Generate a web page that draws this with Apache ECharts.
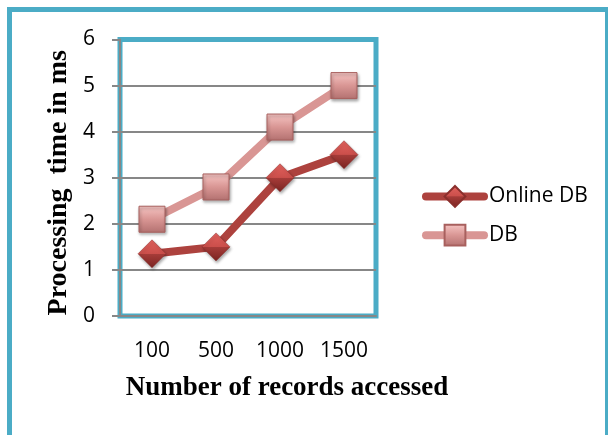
<!DOCTYPE html>
<html>
<head>
<meta charset="utf-8">
<script src="https://cdn.jsdelivr.net/npm/echarts@6/dist/echarts.min.js"></script>
<style>
  html, body { margin: 0; padding: 0; background: #ffffff; }
  #chart { width: 608px; height: 435px; }
</style>
</head>
<body>
<div id="chart"></div>
<script>
// Processing time per number of records accessed
const categories = ['100', '500', '1000', '1500'];
const onlineDb = [1.35, 1.5, 3, 3.5];
const db = [2.1, 2.8, 4.1, 5];

const TEAL = '#4bacc6';
const GRAY = '#878787';
const LABEL_FONT = '"Open Sans", Lato, sans-serif';
const TITLE_FONT = '"Liberation Serif", "Times New Roman", serif';

// bevelled marker fills (light upper facets, dark lower facets)
const diamondFill = new echarts.graphic.LinearGradient(0, 0, 0, 1, [
  { offset: 0, color: '#e2625e' },
  { offset: 0.49, color: '#cb4f4b' },
  { offset: 0.51, color: '#a63c39' },
  { offset: 1, color: '#7a2421' }
]);
const squareFill = new echarts.graphic.LinearGradient(0, 0, 0, 1, [
  { offset: 0, color: '#f6c6c4' },
  { offset: 0.5, color: '#d99694' },
  { offset: 1, color: '#b37170' }
]);

const chart = echarts.init(document.getElementById('chart'), null, { renderer: 'canvas' });

chart.setOption({
  animation: false,
  backgroundColor: '#ffffff',
  graphic: [{
    type: 'rect',
    z: -10,
    silent: true,
    shape: { x: 9.5, y: 9.5, width: 598, height: 500 },
    style: { fill: 'none', stroke: TEAL, lineWidth: 5 }
  }],
  grid: {
    left: 120,
    right: 232,
    top: 39.5,
    bottom: 119,
    show: true,
    borderColor: TEAL,
    borderWidth: 5,
    backgroundColor: 'transparent'
  },
  legend: {
    orient: 'vertical',
    left: 417,
    top: 180,
    itemWidth: 58,
    itemHeight: 26,
    itemGap: 16,
    selectedMode: false,
    lineStyle: { width: 8, cap: 'round' },
    textStyle: { fontFamily: LABEL_FONT, fontSize: 21, color: '#000000' },
    data: ['Online DB', 'DB']
  },
  xAxis: {
    type: 'category',
    data: categories,
    boundaryGap: true,
    axisLine: { show: true, lineStyle: { color: GRAY, width: 2 } },
    axisTick: { show: false },
    axisLabel: { margin: 25, fontFamily: LABEL_FONT, fontSize: 21, color: '#000000' },
    name: 'Number of records accessed',
    nameLocation: 'middle',
    nameGap: 59,
    nameTextStyle: {
      fontFamily: TITLE_FONT, fontWeight: 'bold', fontSize: 27, color: '#000000',
      padding: [0, 0, 0, 78]
    }
  },
  yAxis: {
    type: 'value',
    min: 0,
    max: 6,
    interval: 1,
    axisLine: { show: true, lineStyle: { color: GRAY, width: 2 } },
    axisTick: { show: true, length: 8, lineStyle: { color: GRAY, width: 2 } },
    axisLabel: { margin: 25, fontFamily: LABEL_FONT, fontSize: 21, color: '#000000' },
    splitLine: { show: true, showMinLine: false, showMaxLine: false, lineStyle: { color: GRAY, width: 2 } },
    name: 'Processing  time in ms',
    nameLocation: 'middle',
    nameRotate: 90,
    nameGap: 47,
    nameTextStyle: {
      fontFamily: TITLE_FONT, fontWeight: 'bold', fontSize: 28, color: '#000000',
      padding: [0, 10, 0, 0]
    }
  },
  series: [
    {
      name: 'Online DB',
      type: 'line',
      data: onlineDb,
      symbol: 'diamond',
      symbolSize: 28,
      lineStyle: { color: '#ad423e', width: 8, cap: 'round', join: 'round' },
      itemStyle: {
        color: diamondFill,
        borderColor: '#8a2f2c',
        borderWidth: 0.5,
        shadowColor: 'rgba(0,0,0,0.35)',
        shadowBlur: 3,
        shadowOffsetX: 1,
        shadowOffsetY: 2
      },
      z: 3
    },
    {
      name: 'DB',
      type: 'line',
      data: db,
      symbol: 'rect',
      symbolSize: 26,
      lineStyle: { color: '#d99694', width: 8, cap: 'round', join: 'round' },
      itemStyle: {
        color: squareFill,
        borderColor: '#a8605e',
        borderWidth: 1,
        shadowColor: 'rgba(0,0,0,0.35)',
        shadowBlur: 3,
        shadowOffsetX: 1,
        shadowOffsetY: 2
      },
      z: 4
    }
  ]
});
</script>
</body>
</html>
